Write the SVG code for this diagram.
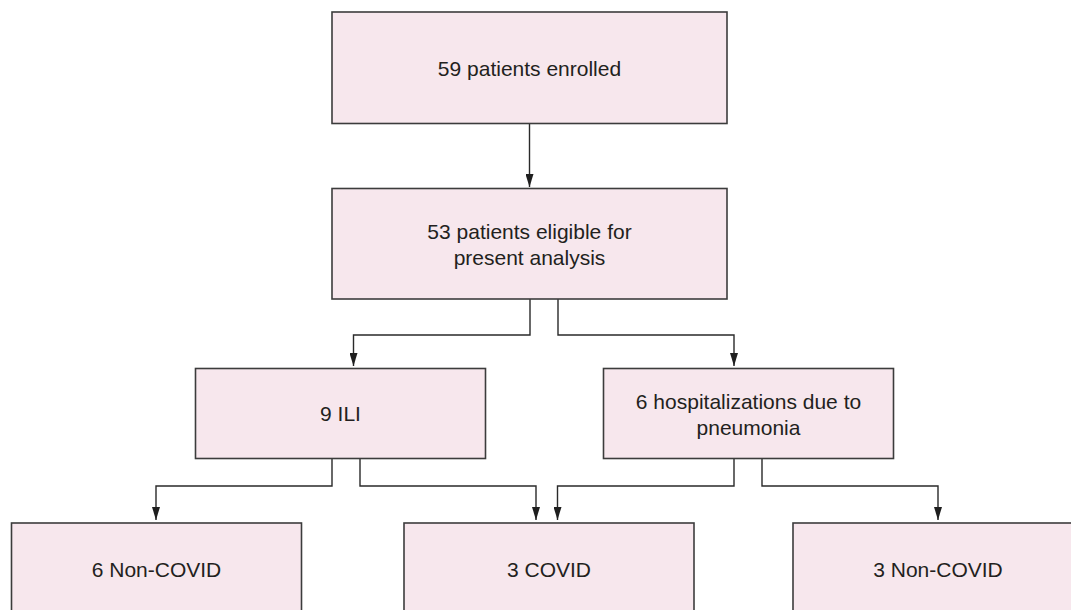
<svg xmlns="http://www.w3.org/2000/svg" width="1071" height="610" viewBox="0 0 1071 610">
<style>
.box{fill:#f7e7ed;stroke:#3c3c3c;stroke-width:1.6}
.lbl{font-family:"Liberation Sans",Arial,sans-serif;font-size:21px;fill:#231f20;text-anchor:middle}
.con{fill:none;stroke:#2a2a2a;stroke-width:1.4}
</style>
<defs>
<marker id="arr" markerUnits="userSpaceOnUse" viewBox="0 0 13 8" refX="13" refY="4" markerWidth="13" markerHeight="8" orient="auto">
<path d="M0,0 L13,4 L0,8 Z" fill="#1f1f1f"/>
</marker>
</defs>
<rect width="1071" height="610" fill="#ffffff"/>
<g id="connectors">
<path class="con" d="M529.5,124 V187" marker-end="url(#arr)"/>
<path class="con" d="M530,299 V335 H353.5 V366" marker-end="url(#arr)"/>
<path class="con" d="M558,299 V335 H734 V366" marker-end="url(#arr)"/>
<path class="con" d="M332,458 V486 H156 V520" marker-end="url(#arr)"/>
<path class="con" d="M360,458 V486 H536 V520" marker-end="url(#arr)"/>
<path class="con" d="M734,458 V486 H557.5 V520" marker-end="url(#arr)"/>
<path class="con" d="M762,458 V486 H938 V520" marker-end="url(#arr)"/>
</g>
<g id="n1"><rect class="box" x="332" y="12" width="395" height="111.5"/><text class="lbl" x="529.5" y="76">59 patients enrolled</text></g>
<g id="n2"><rect class="box" x="332" y="188.5" width="395" height="110.5"/><text class="lbl" x="529.5" y="238.5">53 patients eligible for</text><text class="lbl" x="529.5" y="264.5">present analysis</text></g>
<g id="n3"><rect class="box" x="195.5" y="368.5" width="290" height="90"/><text class="lbl" x="340.5" y="420.5">9 ILI</text></g>
<g id="n4"><rect class="box" x="603.5" y="368.5" width="290" height="90"/><text class="lbl" x="748.5" y="409">6 hospitalizations due to</text><text class="lbl" x="748.5" y="435">pneumonia</text></g>
<g id="n5"><rect class="box" x="11.5" y="523" width="290" height="91"/><text class="lbl" x="156.5" y="577">6 Non-COVID</text></g>
<g id="n6"><rect class="box" x="404" y="523" width="290" height="91"/><text class="lbl" x="549" y="577">3 COVID</text></g>
<g id="n7"><rect class="box" x="793" y="523" width="290" height="91"/><text class="lbl" x="938" y="577">3 Non-COVID</text></g>
</svg>
